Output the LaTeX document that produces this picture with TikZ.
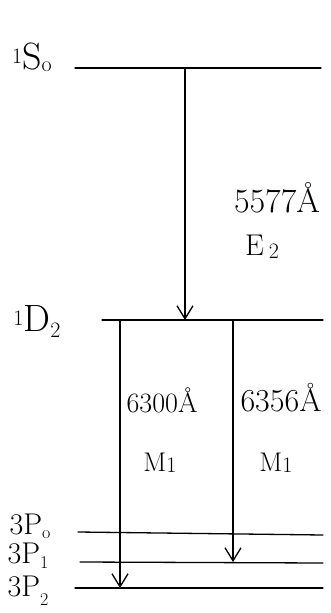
\documentclass[tikz,border=0pt]{standalone}
\usetikzlibrary{arrows.meta}
\begin{document}
\begin{tikzpicture}[x=1pt,y=-1pt,
  level/.style={line width=1.3pt,line cap=round},
  trans/.style={line width=1.3pt,-{Straight Barb[length=13pt,width=16pt,line width=1.3pt]}},
  big/.style={font=\fontsize{38}{40}\selectfont,inner sep=0pt},
  mid/.style={font=\fontsize{30}{32}\selectfont,inner sep=0pt},
  wl/.style={font=\fontsize{30}{34}\selectfont,inner sep=0pt},
  lab/.style={font=\fontsize{27}{30}\selectfont,inner sep=0pt}]
\useasboundingbox (0,0) rectangle (330,613);
% levels
\coordinate (s0l) at (75,68);   \coordinate (s0r) at (321,68);
\coordinate (d2l) at (102,320); \coordinate (d2r) at (323,320);
\coordinate (p0l) at (78,532);  \coordinate (p0r) at (323,535);
\coordinate (p1l) at (80,562);  \coordinate (p1r) at (323,563);
\coordinate (p2l) at (75,588);  \coordinate (p2r) at (323,588);
\draw[level] (s0l) -- (s0r);
\draw[level] (d2l) -- (d2r);
\draw[level] (p0l) -- (p0r);
\draw[level] (p1l) -- (p1r);
\draw[level] (p2l) -- (p2r);
% labels of levels
\node[big] (ls0) at (32,57) {\raisebox{6pt}{\fontsize{22}{24}\selectfont 1}S\raisebox{-2pt}{\fontsize{22}{24}\selectfont o}};
\node[big] (ld2) at (37,322) {\raisebox{6pt}{\fontsize{22}{24}\selectfont 1}D\raisebox{-6pt}{\fontsize{22}{24}\selectfont 2}};
\node[mid] (lp0) at (30,526) {3P\raisebox{-4pt}{\fontsize{18}{20}\selectfont o}};
\node[mid] (lp1) at (28,556) {3P\raisebox{-5pt}{\fontsize{18}{20}\selectfont 1}};
\node[mid] (lp2) at (28,591) {3P\raisebox{-9pt}{\fontsize{18}{20}\selectfont 2}};
% transitions
\coordinate (a1) at (185,69);  \coordinate (b1) at (185,320);
\coordinate (a2) at (120,321); \coordinate (b2) at (120,588);
\coordinate (a3) at (233,321); \coordinate (b3) at (233,562);
\draw[trans] (a1) -- (b1);
\draw[trans] (a2) -- (b2);
\draw[trans] (a3) -- (b3);
% transition labels
\node[wl,font=\fontsize{34}{36}\selectfont] (w1) at (277,198) {5577\AA};
\node[lab,font=\fontsize{30}{32}\selectfont] (e2) at (262,247) {E\,\raisebox{-3pt}{\fontsize{22}{24}\selectfont 2}};
\node[wl,font=\fontsize{28}{30}\selectfont] (w2) at (162,400) {6300\AA};
\node[wl,font=\fontsize{32}{34}\selectfont] (w3) at (281,398) {6356\AA};
\node[lab] (m1) at (160,463) {M\raisebox{-1pt}{\fontsize{22}{24}\selectfont 1}};
\node[lab] (m2) at (276,463) {M\raisebox{-1pt}{\fontsize{22}{24}\selectfont 1}};
\end{tikzpicture}
\end{document}
